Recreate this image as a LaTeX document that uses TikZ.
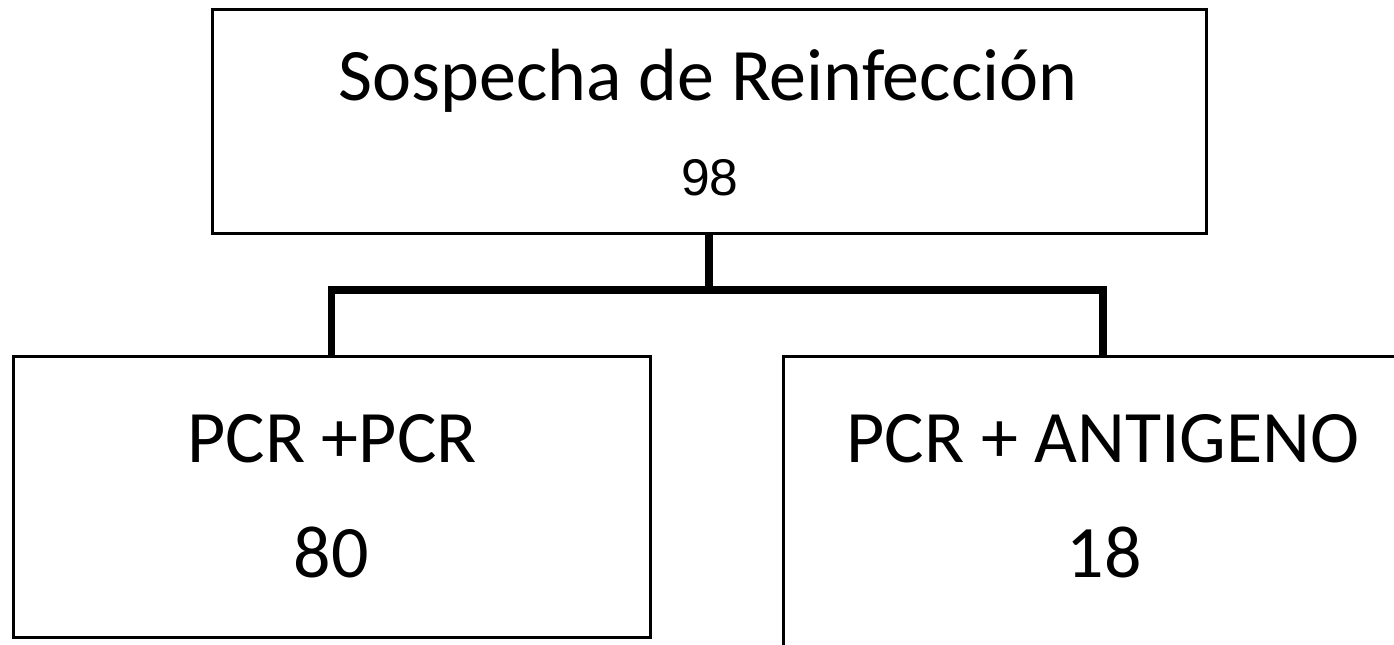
\documentclass[tikz,border=0pt]{standalone}
\usepackage{fontspec}
\setmainfont{Carlito}
\newfontfamily\arialfont{Liberation Sans}
\usetikzlibrary{positioning}
\tikzset{
    box/.style = {draw, line width=1.5pt, inner sep=0pt},
    bigtext/.style = {font=\fontsize{37}{44}\selectfont, inner sep=0pt, anchor=base},
    smalltext/.style = {font={\fontsize{25.8}{31}\arialfont}, inner sep=0pt, anchor=base},
    conn/.style = {line width=3.75pt, line join=miter},
}
\begin{document}
\begin{tikzpicture}[x=0.5pt, y=-0.5pt]
    \useasboundingbox (0,0) rectangle (1394,644);
    \clip (0,0) rectangle (1394,644);

    \node (suspect) [box, minimum width=497pt, minimum height=112pt] at (709,121) {};
    \node (pcrpcr) [box, minimum width=318.5pt, minimum height=140.5pt] at (331.5,496.5) {};
    \node (pcrag) [box, minimum width=320pt, minimum height=150pt] at (1103,506) {};

    \node (suspecttitle) [bigtext] at (708,100) {Sospecha de Reinfección};
    \node (suspectnum) [smalltext] at (710,195) {98};
    \node (pcrpcrtitle) [bigtext] at (332,462) {PCR +PCR};
    \node (pcrpcrnum) [bigtext] at (331,577) {80};
    \node (pcragtitle) [bigtext] at (1103,462) {PCR + ANTIGENO};
    \node (pcragnum) [bigtext] at (1104,577) {18};

    \coordinate (fork) at (709,290);
    \draw [conn] (suspect.south) -- (fork) -| (pcrpcr.north);
    \draw [conn] (fork) -| (pcrag.north);
\end{tikzpicture}
\end{document}
